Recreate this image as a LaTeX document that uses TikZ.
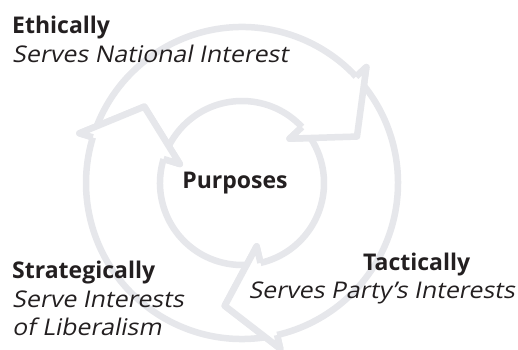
\documentclass[tikz,border=0pt]{standalone}
\usepackage{fontspec}
\setmainfont{Open Sans}
\newfontfamily\slantfont[FakeSlant=0.2, FakeStretch=1.08]{Open Sans}
\definecolor{ringgray}{HTML}{E6E7EB}
\definecolor{textdark}{HTML}{231F20}

\tikzstyle{every node}=[font=\fontsize{23}{28}\selectfont, text=textdark, inner sep=0pt]

\begin{document}
\begin{tikzpicture}[
            x=1pt, y=1pt,
            ring/.style={draw=ringgray, line width=6.5pt, line join=round},
            head/.style={anchor=base west, font=\fontsize{23}{28}\selectfont\bfseries},
            sub/.style={anchor=base west, font=\fontsize{23}{28}\selectfont\slantfont}]
        \useasboundingbox (0,0) rectangle (518,349);

        % three curved arrows, bodies first, heads on top
        \begin{scope}[shift={(242,166)}]
            \foreach \b in {43,163,283}{
                \filldraw[ring, fill=white] (\b+117:156pt) arc[start angle=\b+117, end angle=\b, radius=156pt]
                        -- (\b:170pt) -- (\b-21:124pt) -- (\b:65pt) -- (\b:82pt)
                        arc[start angle=\b, end angle=\b+117, radius=82pt] -- cycle;
            }
            \foreach \b in {43,163,283}{
                \fill[white] (\b:156pt) -- (\b:170pt) -- (\b-21:124pt) -- (\b:65pt) -- (\b:82pt) -- cycle;
                \draw[ring] (\b:156pt) -- (\b:170pt) -- (\b-21:124pt) -- (\b:65pt) -- (\b:82pt);
            }
        \end{scope}

        \node[anchor=base, font=\fontsize{23}{28}\selectfont\bfseries] (purp) at (235,161) {Purposes};

        \node[head] (eth) at (12,316) {Ethically};
        \node[sub] (ethsub) at (12,287) {Serves National Interest};

        \node[head] (strat) at (12,71) {Strategically};
        \node[sub] (stratsub) at (12,42) {Serve Interests};
        \node[sub] (stratsub2) at (12,14) {of Liberalism};

        \node[head] (tact) at (363,79) {Tactically};
        \node[sub, anchor=base east] (tactsub) at (515,51) {Serves Party’s Interests};
    \end{tikzpicture}
\end{document}
